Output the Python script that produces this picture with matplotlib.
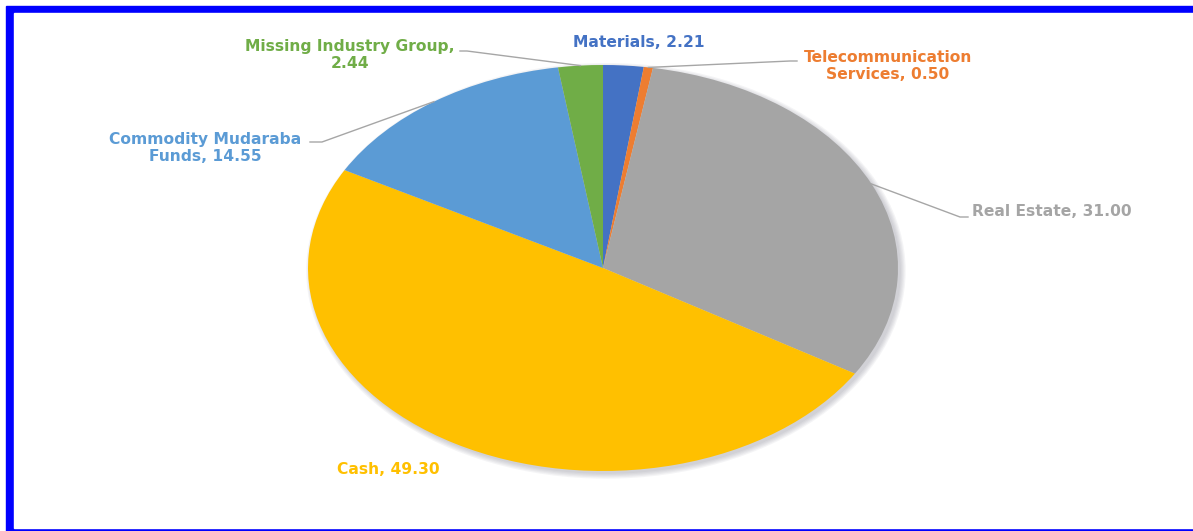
import numpy as np
import matplotlib.pyplot as plt
from matplotlib.patches import Rectangle, Ellipse

# Data
texts = ['Materials, 2.21', 'Telecommunication\nServices, 0.50', 'Real Estate, 31.00',
         'Cash, 49.30', 'Commodity Mudaraba\nFunds, 14.55', 'Missing Industry Group,\n2.44']
values = [2.21, 0.50, 31.00, 49.30, 14.55, 2.44]
colors = ['#4472C4', '#ED7D31', '#A5A5A5', '#FFC000', '#5B9BD5', '#70AD47']

W, H = 1193, 531
cx, cy = 603, 268     # pie centre in pixels (from top)
rx, ry = 295, 203     # pie is stretched wide

fig = plt.figure(figsize=(W / 100, H / 100), dpi=100)

# blue frame
fig.patches.append(Rectangle((6 / W, -0.1), 1.2, (531 - 6) / H + 0.1,
                             transform=fig.transFigure, color='#0000FF', zorder=-10))
fig.patches.append(Rectangle((14 / W, 3 / H), 1.2, (528 - 13) / H,
                             transform=fig.transFigure, color='white', zorder=-9))

ax = fig.add_axes([0, 0, 1, 1])
ax.patch.set_alpha(0)


def px(x, y):
    # pixel (from top-left) -> data coords
    return (x - cx) / rx, (cy - y) / ry


# soft shadow, mostly bottom-right
for i in range(5):
    sh = Ellipse((0.01, -0.014), 2 + 0.008 * i, 2 + 0.012 * i,
                 color='#707080', alpha=0.07, lw=0, zorder=0)
    ax.add_patch(sh)

wedges, _ = ax.pie(values, colors=colors, startangle=90, counterclock=False,
                   wedgeprops=dict(linewidth=0))
ax.set_aspect('auto')
ax.set_xlim(-cx / rx, (W - cx) / rx)
ax.set_ylim(-(H - cy) / ry, cy / ry)
ax.axis('off')

# label pixel positions
label_pos = [(639, 43), (888, 66), (1052, 212), (388, 469), (205, 148), (350, 55)]
# leader line start (near label) in pixels, None = no line
leader = [None, [(797, 61), (790, 61)], [(968, 217), (960, 217)], None,
          [(310, 142), (322, 142)], [(460, 51), (467, 51)]]

for w, t, pos, ld, c in zip(wedges, texts, label_pos, leader, colors):
    x, y = px(*pos)
    ax.text(x, y, t, ha='center', va='center', color=c, fontsize=11.2, fontweight='bold',
            linespacing=1.12)
    if ld is not None:
        ang = np.deg2rad((w.theta1 + w.theta2) / 2)
        ex, ey = np.cos(ang), np.sin(ang)
        p0 = px(*ld[0])
        p1 = px(*ld[1])
        ax.plot([p0[0], p1[0], ex], [p0[1], p1[1], ey], color='#A6A6A6', lw=1, zorder=3)

fig.savefig('out.png', dpi=100)
